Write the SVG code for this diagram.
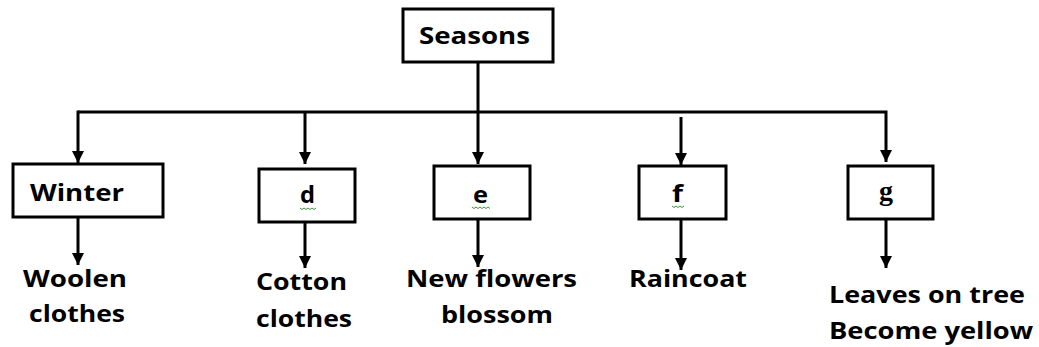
<svg xmlns="http://www.w3.org/2000/svg" width="1039" height="347" viewBox="0 0 1039 347">
<style>
.box{fill:#fff;stroke:#000;stroke-width:3}
.ln{fill:none;stroke:#000;stroke-width:3}
.t{font-family:"Open Sans","Liberation Sans",sans-serif;font-weight:bold;font-size:24px;fill:#000}
.s{font-family:"Liberation Serif",serif;font-weight:bold;font-size:28px;fill:#000}
.sq{fill:none;stroke:#3a9a3a;stroke-width:1}
</style>
<defs>
<marker id="ah" markerUnits="userSpaceOnUse" markerWidth="14" markerHeight="14" refX="12" refY="6" orient="auto">
<path d="M0,0 L12,6 L0,12 Z" fill="#000"/>
</marker>
</defs>
<g id="connectors">
<line class="ln" x1="478" y1="62" x2="478" y2="164" marker-end="url(#ah)"/>
<polyline class="ln" points="78,112 886,112 886,162" marker-end="url(#ah)"/>
<line class="ln" x1="78" y1="110.5" x2="78" y2="163" marker-end="url(#ah)"/>
<line class="ln" x1="305" y1="112" x2="305" y2="164" marker-end="url(#ah)"/>
<line class="ln" x1="681" y1="117" x2="681" y2="165" marker-end="url(#ah)"/>
<line class="ln" x1="78" y1="217" x2="78" y2="265" marker-end="url(#ah)"/>
<line class="ln" x1="305" y1="222" x2="305" y2="268" marker-end="url(#ah)"/>
<line class="ln" x1="478" y1="219" x2="478" y2="267" marker-end="url(#ah)"/>
<line class="ln" x1="681" y1="219" x2="681" y2="270" marker-end="url(#ah)"/>
<line class="ln" x1="886" y1="219" x2="886" y2="268" marker-end="url(#ah)"/>
</g>
<g id="seasons">
<rect class="box" x="403" y="9" width="150" height="53"/>
<text class="t" x="419" y="44" textLength="111" lengthAdjust="spacingAndGlyphs">Seasons</text>
</g>
<g id="winter">
<rect class="box" x="13" y="164" width="150" height="53"/>
<text class="t" x="30" y="201" textLength="94" lengthAdjust="spacingAndGlyphs">Winter</text>
</g>
<g id="d">
<rect class="box" x="259" y="169" width="96" height="53"/>
<text class="t" x="300" y="203" textLength="15" lengthAdjust="spacingAndGlyphs">d</text>
<path class="sq" d="M300,208 l2,1.5 l2,-1.5 l2,1.5 l2,-1.5 l2,1.5 l2,-1.5 l2,1.5 l2,-1.5"/>
</g>
<g id="e">
<rect class="box" x="434" y="166" width="96" height="53"/>
<text class="t" x="473" y="203" textLength="15" lengthAdjust="spacingAndGlyphs">e</text>
<path class="sq" d="M472,207 l2,1.5 l2,-1.5 l2,1.5 l2,-1.5 l2,1.5 l2,-1.5 l2,1.5 l2,-1.5 l2,1.5"/>
</g>
<g id="f">
<rect class="box" x="639" y="166" width="87" height="53"/>
<text class="t" x="672" y="202" textLength="11" lengthAdjust="spacingAndGlyphs">f</text>
<path class="sq" d="M672,206 l2,1.5 l2,-1.5 l2,1.5 l2,-1.5 l2,1.5 l2,-1.5"/>
</g>
<g id="g">
<rect class="box" x="848" y="166" width="85" height="53"/>
<text class="s" x="879" y="200" textLength="14" lengthAdjust="spacingAndGlyphs">g</text>
</g>
<g id="woolen">
<text class="t" x="23" y="287" textLength="104" lengthAdjust="spacingAndGlyphs">Woolen</text>
<text class="t" x="29" y="322" textLength="96" lengthAdjust="spacingAndGlyphs">clothes</text>
</g>
<g id="cotton">
<text class="t" x="256" y="290" textLength="91" lengthAdjust="spacingAndGlyphs">Cotton</text>
<text class="t" x="256" y="327" textLength="96" lengthAdjust="spacingAndGlyphs">clothes</text>
</g>
<g id="flowers">
<text class="t" x="406" y="287" textLength="171" lengthAdjust="spacingAndGlyphs">New flowers</text>
<text class="t" x="441" y="323" textLength="112" lengthAdjust="spacingAndGlyphs">blossom</text>
</g>
<g id="raincoat">
<text class="t" x="629" y="287" textLength="118" lengthAdjust="spacingAndGlyphs">Raincoat</text>
</g>
<g id="leaves">
<text class="t" x="829" y="303" textLength="196" lengthAdjust="spacingAndGlyphs">Leaves on tree</text>
<text class="t" x="829" y="339" textLength="204" lengthAdjust="spacingAndGlyphs">Become yellow</text>
</g>
</svg>
